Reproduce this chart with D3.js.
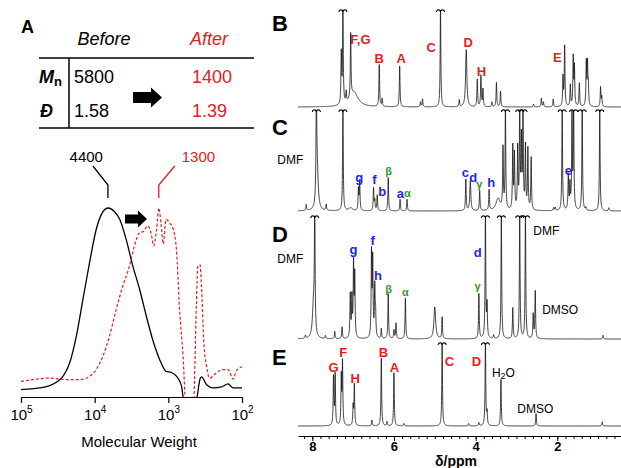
<!DOCTYPE html>
<html>
<head>
<meta charset="utf-8">
<script src="https://cdn.jsdelivr.net/npm/d3@7"></script>
<style>
  body { margin: 0; background: #fff; }
  text { font-family: "Liberation Sans", Arial, sans-serif; }
</style>
</head>
<body>
<div id="chart"></div>
<script>
// ---- panel A data ----
const tableBefore = ["5800", "1.58"];
const tableAfter = ["1400", "1.39"];
const gpcTicks = [1e5, 1e4, 1e3, 1e2];
// [log10 MW, normalised RI]
const gpcBefore = [
  [5.00, 0.039], [4.75, 0.048], [4.61, 0.06], [4.50, 0.083], [4.43, 0.109], [4.34, 0.18],
  [4.25, 0.32], [4.16, 0.515], [4.07, 0.71], [3.98, 0.885], [3.91, 0.965], [3.82, 1.0],
  [3.73, 0.98], [3.66, 0.94], [3.57, 0.83], [3.48, 0.69], [3.39, 0.57], [3.30, 0.43],
  [3.21, 0.30], [3.12, 0.20], [3.03, 0.136], [2.96, 0.13], [2.89, 0.11], [2.82, 0.056],
  [2.78, -0.05], [2.65, -0.05], [2.61, 0.0], [2.57, 0.095], [2.55, 0.106], [2.48, 0.065],
  [2.39, 0.048], [2.28, 0.053], [2.19, 0.069], [2.12, 0.048], [2.00, 0.048]
];
const gpcAfter = [
  [5.00, 0.083], [4.84, 0.092], [4.61, 0.10], [4.38, 0.092], [4.20, 0.092], [4.07, 0.109],
  [3.98, 0.145], [3.89, 0.215], [3.80, 0.32], [3.71, 0.46], [3.62, 0.585], [3.53, 0.69],
  [3.46, 0.80], [3.39, 0.87], [3.34, 0.875], [3.28, 0.905], [3.23, 0.86], [3.20, 0.80],
  [3.16, 0.885], [3.13, 1.0], [3.10, 0.92], [3.07, 0.81], [3.03, 0.94], [2.98, 0.92],
  [2.94, 0.895], [2.89, 0.78], [2.85, 0.48], [2.80, 0.215], [2.76, -0.05], [2.66, -0.05],
  [2.62, 0.48], [2.60, 0.69], [2.57, 0.70], [2.55, 0.585], [2.52, 0.30], [2.48, 0.16],
  [2.44, 0.10], [2.35, 0.127], [2.26, 0.145], [2.19, 0.145], [2.12, 0.095], [2.08, 0.136],
  [2.00, 0.16]
];
const gpcPeakLabels = [["4400", 3.82], ["1300", 3.13]];

// ---- NMR data: [ppm, height (% of panel), optional half-width] ----
const peaksB = [
  [7.29, 52], [7.25, 100], [7.17, 11], [7.06, 66], [6.98, 15, 0.12], [6.36, 43], [6.29, 8],
  [5.86, 42], [5.35, 5], [5.30, 8], [4.86, 100], [4.40, 7], [4.23, 59, 0.018], [3.96, 28],
  [3.87, 32], [3.82, 18], [3.60, 5], [3.49, 25], [3.39, 16], [2.58, 3], [2.39, 9], [2.34, 5],
  [2.10, 8], [1.86, 30], [1.82, 62], [1.68, 22], [1.61, 50], [1.58, 40], [1.46, 24],
  [1.29, 45], [1.26, 42], [1.24, 20], [0.94, 20], [0.91, 10]
];
const peaksC = [
  [8.15, 6], [7.90, 100], [7.88, 40, 0.03], [7.66, 6], [7.25, 100], [7.06, 3, 0.05],
  [6.87, 21], [6.84, 29], [6.50, 22], [6.47, 10], [6.41, 15.5], [6.14, 33], [5.85, 11.5],
  [5.68, 11.5], [4.24, 31], [4.13, 29.5, 0.015], [3.90, 20], [3.67, 20.5], [3.45, 12, 0.06],
  [3.33, 60], [3.27, 100], [3.09, 62], [3.05, 54], [2.97, 60], [2.92, 100], [2.88, 67],
  [2.84, 100], [2.78, 62], [2.72, 60], [2.64, 52], [2.09, 3], [2.05, 3], [1.88, 100],
  [1.73, 34], [1.69, 24], [1.64, 92], [1.60, 100], [1.39, 100], [1.30, 3], [0.96, 100],
  [0.74, 3]
];
const peaksD = [
  [8.17, 2.5], [7.97, 28, 0.03], [7.94, 100], [7.68, 2.5], [7.45, 6], [7.27, 9.5],
  [7.07, 35], [7.03, 32], [6.99, 60], [6.96, 50], [6.55, 68], [6.52, 62], [6.47, 40],
  [6.45, 19], [6.31, 8], [6.14, 36.6], [6.00, 7], [5.95, 12.7], [5.72, 33], [5.00, 26, 0.025],
  [4.82, 17.6], [3.92, 36.6], [3.76, 100], [3.72, 26], [3.56, 3], [3.37, 100], [3.09, 25],
  [2.92, 100], [2.78, 100], [2.59, 19.5], [2.54, 38.5], [0.88, 3]
];
const peaksE = [
  [7.48, 58], [7.44, 61], [7.29, 58], [7.26, 75], [7.00, 23], [6.97, 49], [6.54, 7],
  [6.31, 81.5], [6.17, 5], [6.00, 64], [5.76, 3], [4.82, 100], [4.17, 3], [3.92, 4],
  [3.76, 100], [3.72, 15], [3.38, 56], [2.52, 15], [0.90, 5]
];

// peak labels: [text, ppm, height, kind]
const labelsB = [
  ["F,G", 6.82, 70, "red"], ["B", 6.36, 49.5, "red"], ["A", 5.82, 49.5, "red"],
  ["C", 5.09, 61, "red"], ["D", 4.18, 66, "red"], ["H", 3.86, 37, "red"], ["E", 2.0, 51.5, "red"]
];
const labelsC = [
  ["DMF", 8.54, 50.5, "plain"], ["g", 6.85, 32.7, "blue"], ["f", 6.48, 30.7, "blue"],
  ["b", 6.29, 19.8, "blue"], ["β", 6.13, 39.6, "green"], ["a", 5.84, 17.8, "blue"],
  ["α", 5.67, 17.8, "green"], ["c", 4.25, 38.6, "blue"], ["d", 4.06, 32.7, "blue"],
  ["γ", 3.91, 26.7, "green"], ["h", 3.62, 28.5, "blue"], ["e", 1.73, 40, "blue"]
];
const labelsD = [
  ["DMF", 8.54, 65, "plain"], ["g", 6.99, 73, "blue"], ["f", 6.52, 80, "blue"],
  ["h", 6.39, 52, "blue"], ["β", 6.13, 41, "green"], ["α", 5.72, 38.5, "green"],
  ["d", 3.95, 70, "blue"], ["γ", 3.95, 43, "green"], ["DMF", 2.27, 88, "plain"],
  ["DMSO", 1.93, 23.6, "plain"]
];
const labelsE = [
  ["G", 7.48, 71, "red"], ["F", 7.24, 89, "red"], ["H", 6.95, 57, "red"], ["B", 6.26, 88, "red"],
  ["A", 5.99, 71, "red"], ["C", 4.64, 78, "red"], ["D", 3.98, 78, "red"],
  ["H2O", 3.32, 64, "plain"], ["DMSO", 2.54, 20.5, "plain"]
];
const ppmTicks = [8, 6, 4, 2];

const RED = "#e3201c", BLUE = "#2424e8", GREEN = "#2e9a2e";

const W = 621, H = 468;
const svg = d3.select("#chart").append("svg").attr("width", W).attr("height", H);

// ================= Panel A: table =================
const tbl = svg.append("g");
tbl.append("text").attr("x", 21).attr("y", 33).attr("font-size", 18)
  .attr("font-weight", "bold").text("A");
tbl.append("text").attr("x", 104).attr("y", 45).attr("font-size", 18).attr("font-style", "italic")
  .attr("text-anchor", "middle").text("Before");
tbl.append("text").attr("x", 209).attr("y", 45).attr("font-size", 18).attr("font-style", "italic")
  .attr("text-anchor", "middle").attr("fill", RED).text("After");
tbl.append("line").attr("x1", 39).attr("x2", 254).attr("y1", 58).attr("y2", 58)
  .attr("stroke", "#000").attr("stroke-width", 1.5);
tbl.append("line").attr("x1", 39).attr("x2", 254).attr("y1", 128).attr("y2", 128)
  .attr("stroke", "#000").attr("stroke-width", 1.5);
tbl.append("line").attr("x1", 69).attr("x2", 69).attr("y1", 58).attr("y2", 128)
  .attr("stroke", "#000").attr("stroke-width", 1.5);

const rowY = [83, 117];
const mn = tbl.append("text").attr("x", 39).attr("y", rowY[0]).attr("font-size", 18)
  .attr("font-weight", "bold");
mn.append("tspan").attr("font-style", "italic").text("M");
mn.append("tspan").attr("font-size", 13).attr("dy", 3).text("n");
tbl.append("text").attr("x", 40).attr("y", rowY[1]).attr("font-size", 18)
  .attr("font-weight", "bold").attr("font-style", "italic").text("Đ");
tbl.selectAll(".bef").data(tableBefore).join("text").attr("class", "bef")
  .attr("x", 74).attr("y", (d, i) => rowY[i]).attr("font-size", 18).text(d => d);
tbl.selectAll(".aft").data(tableAfter).join("text").attr("class", "aft")
  .attr("x", 192).attr("y", (d, i) => rowY[i]).attr("font-size", 18).attr("fill", RED).text(d => d);

function blockArrow(g, x0, x1, cy, bodyH, headH, headL) {
  const xb = x1 - headL;
  g.append("path")
    .attr("d", `M${x0},${cy - bodyH / 2}H${xb}V${cy - headH / 2}L${x1},${cy}L${xb},${cy + headH / 2}V${cy + bodyH / 2}H${x0}Z`)
    .attr("fill", "#000");
}
blockArrow(tbl, 133, 162, 97.5, 11, 20, 11);

// ================= Panel A: GPC =================
const gx = d3.scaleLog().domain([1e5, 1e2]).range([21, 242]);
const gy = d3.scaleLinear().domain([0, 1]).range([397, 208]);
const gpc = svg.append("g");
svg.append("clipPath").attr("id", "gpcclip").append("rect")
  .attr("x", 15).attr("y", 140).attr("width", 240).attr("height", 397 - 140);

const gline = d3.line().x(d => gx(Math.pow(10, d[0]))).y(d => gy(d[1])).curve(d3.curveMonotoneX);
gpc.append("path").datum(gpcBefore).attr("d", gline).attr("clip-path", "url(#gpcclip)")
  .attr("fill", "none").attr("stroke", "#000").attr("stroke-width", 1.3);
gpc.append("path").datum(gpcAfter).attr("d", gline).attr("clip-path", "url(#gpcclip)")
  .attr("fill", "none").attr("stroke", RED).attr("stroke-width", 1.2).attr("stroke-dasharray", "3,2");

const gAxis = gpc.append("g").attr("transform", "translate(0,397)")
  .call(d3.axisBottom(gx).tickValues(gpcTicks).tickSize(6).tickSizeOuter(0).tickFormat(""));
gAxis.select(".domain").attr("stroke-width", 1.2);
gAxis.selectAll(".tick line").attr("stroke-width", 1.2);
gAxis.selectAll(".tick").append("text")
  .attr("y", 23).attr("fill", "#000").attr("font-size", 15).attr("text-anchor", "middle")
  .each(function (d) {
    const t = d3.select(this);
    t.append("tspan").text("10");
    t.append("tspan").attr("font-size", 10).attr("dy", -7).text(Math.round(Math.log10(d)));
  });
gpc.append("text").attr("x", 139).attr("y", 447).attr("font-size", 15)
  .attr("text-anchor", "middle").text("Molecular Weight");

// peak annotations: leader goes up-left for the first, up-right for the second
const leaderDx = [-15, 16];
gpcPeakLabels.forEach((p, i) => {
  const px = gx(Math.pow(10, p[1]));
  const col = i === 0 ? "#000" : RED;
  gpc.append("path")
    .attr("d", `M${px},198V185L${px + leaderDx[i]},166`)
    .attr("fill", "none").attr("stroke", col).attr("stroke-width", 1.3);
  gpc.append("text")
    .attr("x", i === 0 ? px + leaderDx[i] + 10 : px + leaderDx[i] + 7)
    .attr("y", 162).attr("font-size", 15)
    .attr("text-anchor", i === 0 ? "end" : "start").attr("fill", col).text(p[0]);
});
blockArrow(gpc, 125, 147, 219, 9, 17, 9);

// ================= NMR panels =================
const nx = d3.scaleLinear().domain([8.35, 0.43]).range([298, 621.4]);

function spectrum(peaks) {
  const grid = d3.range(8.35, 0.43, -0.0025).concat(peaks.map(p => p[0]));
  grid.sort((a, b) => b - a);
  return grid.map(x => {
    const v = d3.sum(peaks, p => {
      const w = p[2] || 0.01;
      return p[1] * w * w / (w * w + (x - p[0]) * (x - p[0]));
    });
    return [x, Math.min(100, v)];
  });
}

const panels = [
  { name: "B", peaks: peaksB, labels: labelsB, base: 107, top: 10, letterY: 31 },
  { name: "C", peaks: peaksC, labels: labelsC, base: 211, top: 110, letterY: 135 },
  { name: "D", peaks: peaksD, labels: labelsD, base: 339, top: 216, letterY: 242 },
  { name: "E", peaks: peaksE, labels: labelsE, base: 426, top: 343, letterY: 365 }
];

const colorOf = { red: RED, blue: BLUE, green: GREEN, plain: "#000" };

panels.forEach(p => {
  const y = d3.scaleLinear().domain([0, 100]).range([p.base, p.top]);
  const g = svg.append("g");
  g.append("text").attr("x", 272).attr("y", p.letterY).attr("font-size", 22)
    .attr("font-weight", "bold").text(p.name);

  const line = d3.line().x(d => nx(d[0])).y(d => y(d[1]));
  g.append("path").datum(spectrum(p.peaks)).attr("d", line)
    .attr("fill", "none").attr("stroke", "#111").attr("stroke-width", 0.8)
    .attr("stroke-linejoin", "round");

  // break marks on truncated peaks
  g.selectAll(".brk").data(p.peaks.filter(d => d[1] >= 100)).join("path")
    .attr("class", "brk")
    .attr("d", d => {
      const cx = nx(d[0]), cy = y(100);
      return `M${cx - 4},${cy + 2}Q${cx - 4},${cy - 0.5} ${cx - 1},${cy}L${cx},${cy + 1.5}L${cx + 1},${cy}Q${cx + 4},${cy - 0.5} ${cx + 4},${cy + 2}`;
    })
    .attr("fill", "none").attr("stroke", "#000").attr("stroke-width", 1.1);

  g.selectAll(".lbl").data(p.labels).join("text").attr("class", "lbl")
    .attr("x", d => nx(d[1])).attr("y", d => y(d[2]))
    .attr("text-anchor", "middle").attr("dominant-baseline", "central")
    .attr("fill", d => colorOf[d[3]])
    .attr("font-weight", d => d[3] === "plain" ? "normal" : "bold")
    .attr("font-size", d => d[3] === "plain" ? 12 : d[3] === "green" ? 11 : 13)
    .each(function (d) {
      const t = d3.select(this);
      if (d[0] === "H2O") {
        t.append("tspan").text("H");
        t.append("tspan").attr("font-size", 9).attr("dy", 3).text("2");
        t.append("tspan").attr("dy", -3).text("O");
      } else {
        t.text(d[0]);
      }
    });
});

// ppm axis
const ax = svg.append("g").attr("transform", "translate(0,436)");
ax.call(d3.axisBottom(nx).tickValues(d3.range(0.6, 8.31, 0.2)).tickSize(3).tickSizeOuter(0).tickFormat(""));
ax.append("g")
  .call(d3.axisBottom(nx).tickValues(ppmTicks).tickSize(5).tickPadding(1).tickSizeOuter(0).tickFormat(d3.format("d")))
  .call(s => s.select(".domain").remove())
  .selectAll("text").attr("font-size", 13).attr("font-weight", "bold").attr("fill", "#000")
  .attr("font-family", "Liberation Sans, Arial, sans-serif");
ax.select(".domain").attr("stroke-width", 1.2);
svg.append("text").attr("x", 456).attr("y", 466).attr("font-size", 14).attr("font-weight", "bold")
  .attr("text-anchor", "middle").text("δ/ppm");
</script>
</body>
</html>
